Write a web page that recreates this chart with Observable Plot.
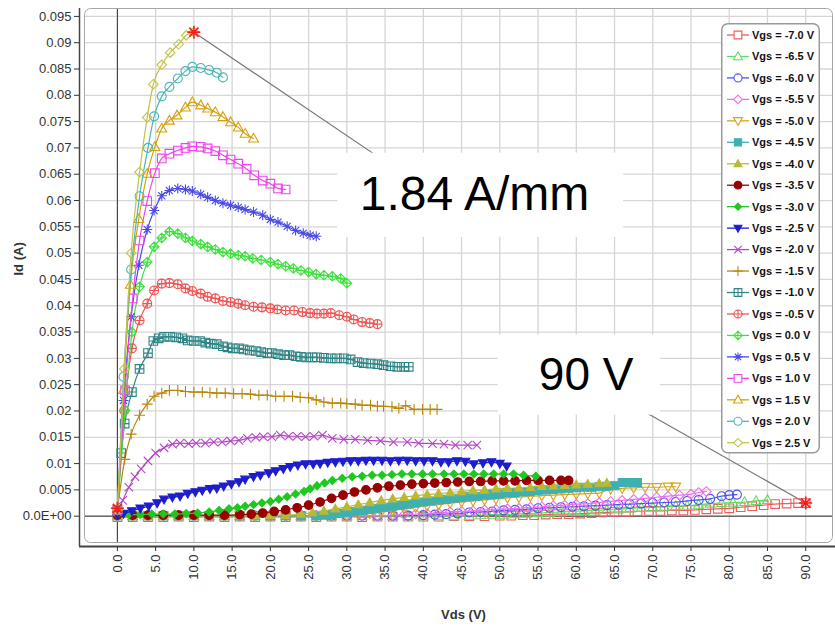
<!DOCTYPE html>
<html><head><meta charset="utf-8">
<script src="https://cdn.jsdelivr.net/npm/d3@7"></script>
<script src="https://cdn.jsdelivr.net/npm/@observablehq/plot@0.6"></script>
<style>
html,body{margin:0;padding:0;background:#fff;}
#wrap{position:relative;width:835px;height:630px;overflow:hidden;}
</style></head><body><div id="wrap"></div>
<script>
// ---------- data ----------
const vgsLabels = ["-7.0","-6.5","-6.0","-5.5","-5.0","-4.5","-4.0","-3.5","-3.0","-2.5","-2.0","-1.5","-1.0","-0.5","0.0","0.5","1.0","1.5","2.0","2.5"];
const xTicks = [0,5,10,15,20,25,30,35,40,45,50,55,60,65,70,75,80,85,90];
const yTicks = [0,0.005,0.01,0.015,0.02,0.025,0.03,0.035,0.04,0.045,0.05,0.055,0.06,0.065,0.07,0.075,0.08,0.085,0.09,0.095];

const d_m70 = [[0,-0.0002],[2,-0.0002],[4,-0.0002],[6,-0.0002],[8,-0.0001],[10,-0.0002],[12,-0.0001],[14,-0.0002],[16,-0.0001],[18,-0.0002],[20,-0.0001],[22,-0.0002],[24,-0.0001],[26,-0.0002],[28,-0.0001],[30,-0.0001],[32,-0.0002],[34,-0.0001],[36,-0.0001],[38,-0.0001],[40,-0.0001],[42,-0.0001],[44,0],[46,0],[48,0],[50,0.0001],[51.5,0.0001],[53,0.0002],[54.5,0.0002],[56,0.0003],[57.5,0.0004],[59,0.0004],[60.5,0.0005],[62,0.0006],[63.5,0.0007],[65,0.0008],[66.5,0.0008],[68,0.0009],[69.5,0.001],[71,0.001],[72.5,0.0011],[74,0.0011],[75.5,0.0012],[77,0.0013],[78.5,0.0014],[80,0.0015],[81.5,0.0017],[83,0.0019],[84.5,0.0021],[86,0.0023],[87.5,0.0024],[89,0.0025],[90,0.0025]];
const d_m65 = [[0,0],[2,0],[4,0],[6,0],[8,0],[10,0],[12,0],[14,0],[16,0],[18,0],[20,0],[22,0],[24,0],[26,0],[28,0],[30,0],[32,0],[34,0],[36,0],[38,0],[40,0],[42,0],[44,0],[46,0.0001],[47.5,0.0002],[49,0.0003],[50.5,0.0003],[52,0.0004],[53.5,0.0005],[55,0.0006],[56.5,0.0007],[58,0.0008],[59.5,0.0009],[61,0.001],[62.5,0.0011],[64,0.0012],[65.5,0.0013],[67,0.0015],[68.5,0.0016],[70,0.0017],[71.5,0.0018],[73,0.0019],[74.5,0.002],[76,0.0022],[77.5,0.0024],[79,0.0025],[80.5,0.0026],[82,0.0027],[83.5,0.0029],[85,0.0031]];
const d_m60 = [[0,0.0001],[2,0.0001],[4,0.0001],[6,0.0001],[8,0.0001],[10,0.0001],[12,0.0001],[14,0.0001],[16,0.0001],[18,0.0001],[20,0.0001],[22,0.0001],[24,0.0001],[26,0.0001],[28,0.0001],[30,0.0001],[32,0.0001],[34,0.0001],[36,0.0001],[38,0.0001],[40,0.0002],[41.5,0.0003],[43,0.0004],[44.5,0.0005],[46,0.0007],[47.5,0.0008],[49,0.0009],[50.5,0.0011],[52,0.0012],[53.5,0.0013],[55,0.0015],[56.5,0.0016],[58,0.0017],[59.5,0.0018],[61,0.0019],[62.5,0.002],[64,0.0021],[65.5,0.0022],[67,0.0023],[68.5,0.0024],[70,0.0025],[71.5,0.0026],[73,0.0027],[74.5,0.0029],[76,0.0031],[77.5,0.0033],[79,0.0038],[80,0.004],[81,0.0041]];
const d_m55 = [[0,0.0001],[2,0.0001],[4,0.0001],[6,0.0001],[8,0.0001],[10,0.0001],[12,0.0001],[14,0.0001],[16,0.0001],[18,0.0001],[20,0.0001],[22,0.0001],[24,0.0001],[26,0.0001],[28,0.0001],[30,0.0001],[32,0.0001],[34,0.0001],[36,0.0002],[37.5,0.0003],[39,0.0004],[40.5,0.0005],[42,0.0006],[43.5,0.0008],[45,0.0009],[46.5,0.001],[48,0.0012],[49.5,0.0013],[51,0.0014],[52.5,0.0015],[54,0.0017],[55.5,0.0018],[57,0.002],[58.5,0.0021],[60,0.0023],[61.5,0.0024],[63,0.0026],[64.5,0.0028],[66,0.003],[67.5,0.0032],[69,0.0034],[70.5,0.0036],[72,0.0038],[73.5,0.004],[75,0.0042],[76,0.0045],[77,0.0047]];
const d_m50 = [[0,0.0001],[2,0.0001],[4,0.0001],[6,0.0001],[8,0.0001],[10,0.0001],[12,0.0001],[14,0.0001],[16,0.0001],[18,0.0001],[20,0.0001],[22,0.0001],[24,0.0001],[26,0.0001],[28,0.0001],[30,0.0001],[31.5,0.0003],[33,0.0005],[34.5,0.0008],[36,0.0011],[37.5,0.0014],[39,0.0017],[40.5,0.002],[42,0.0022],[43.5,0.0025],[45,0.0027],[46.5,0.0029],[48,0.0031],[49.5,0.0033],[51,0.0035],[52.5,0.0036],[54,0.0038],[55.5,0.0039],[57,0.004],[58.5,0.0041],[60,0.0042],[61.5,0.0043],[63,0.0044],[64.5,0.0052],[66,0.0053],[67.5,0.0054],[69,0.0055],[70.5,0.0055],[72,0.0056],[73,0.0056]];
const d_m45 = [[0,0.0001],[2,0.0001],[4,0.0001],[6,0.0001],[8,0.0001],[10,0.0001],[12,0.0001],[14,0.0001],[16,0.0001],[18,0.0001],[20,0.0001],[22,0.0001],[24,0.0001],[26,0.0001],[27,0.0002],[28,0.0003],[29,0.0005],[30,0.0007],[31,0.0009],[32,0.0011],[33,0.0013],[34,0.0015],[35,0.0017],[36,0.0019],[37,0.0021],[38,0.0023],[39,0.0025],[40,0.0027],[41,0.0029],[42,0.0031],[43,0.0032],[44,0.0034],[45,0.0035],[46,0.0037],[47,0.0038],[48,0.004],[49,0.0041],[50,0.0042],[51,0.0044],[52,0.0045],[53,0.0046],[54,0.0047],[55,0.0049],[56,0.005],[57,0.0051],[58,0.0052],[59,0.0053],[60,0.0054],[61,0.0055],[62,0.0055],[63,0.0056],[64,0.0057],[65,0.0058],[66,0.0064],[67,0.0064],[68,0.0064]];
const d_m40 = [[0,0.0001],[2,0.0001],[4,0.0001],[6,0.0001],[8,0.0001],[10,0.0001],[12,0.0001],[14,0.0001],[16,0.0001],[18,0.0001],[20,0.0002],[22,0.0002],[24,0.0004],[25.5,0.0007],[27,0.001],[28.5,0.0014],[30,0.0018],[31.5,0.0022],[33,0.0026],[34.5,0.003],[36,0.0033],[37.5,0.0036],[39,0.0039],[40.5,0.0041],[42,0.0043],[43.5,0.0045],[45,0.0047],[46.5,0.0049],[48,0.005],[49.5,0.0052],[51,0.0053],[52.5,0.0054],[54,0.0055],[55.5,0.0057],[57,0.0058],[58.5,0.0059],[60,0.006],[61.5,0.0061],[63,0.0062],[64,0.0063]];
const d_m35 = [[0,0.0002],[2,0.0002],[4,0.0002],[6,0.0002],[8,0.0002],[10,0.0002],[12,0.0002],[14,0.0002],[16,0.0003],[17.5,0.0004],[19,0.0006],[20.5,0.0009],[22,0.0012],[23.5,0.0016],[25,0.0021],[26.5,0.0027],[28,0.0034],[29.5,0.004],[31,0.0046],[32.5,0.005],[34,0.0054],[35.5,0.0057],[37,0.0059],[38.5,0.0061],[40,0.0062],[41.5,0.0063],[43,0.0064],[44.5,0.0065],[46,0.0066],[47.5,0.0066],[49,0.0067],[50.5,0.0067],[52,0.0067],[53.5,0.0068],[55,0.0068],[56.5,0.0068],[58,0.0068],[59,0.0068]];
const d_m30 = [[0,0.0003],[1.5,0.0003],[3,0.0003],[4.5,0.0004],[6,0.0004],[7.5,0.0004],[9,0.0005],[10.5,0.0006],[12,0.0008],[13.3,0.0011],[14.6,0.0014],[15.7,0.0016],[16.7,0.0019],[17.8,0.0022],[18.9,0.0025],[20,0.0028],[21.1,0.0032],[22.2,0.0037],[23.3,0.0042],[24.4,0.0047],[25.2,0.0052],[26.1,0.0058],[27.1,0.0063],[28.1,0.0068],[29.4,0.0072],[30.7,0.0075],[32,0.0076],[33.3,0.0078],[34.6,0.0078],[35.9,0.0079],[37.2,0.008],[38.5,0.008],[39.9,0.008],[41.2,0.008],[42.7,0.008],[44,0.008],[45.3,0.008],[46.6,0.008],[47.9,0.008],[49.2,0.008],[50.5,0.008],[51.8,0.008],[53.1,0.0078],[54.7,0.0076]];
const d_m25 = [[0,0.0003],[0.8,0.0005],[1.9,0.001],[3,0.0015],[4.1,0.0019],[5.2,0.0025],[6.1,0.0032],[7.2,0.0036],[8.2,0.0038],[9.2,0.0043],[10.2,0.0046],[11.1,0.0049],[12.1,0.0052],[13,0.0053],[13.9,0.0057],[14.9,0.0061],[15.9,0.0065],[16.7,0.007],[17.8,0.0075],[18.7,0.0078],[19.8,0.0082],[20.7,0.0086],[21.7,0.009],[22.6,0.0094],[23.6,0.0097],[24.6,0.0099],[25.6,0.0099],[26.5,0.01],[27.5,0.0102],[28.5,0.0103],[29.5,0.0104],[30.5,0.0105],[31.5,0.0105],[32.5,0.0106],[33.5,0.0106],[34.6,0.0106],[35.7,0.0105],[36.8,0.0106],[37.9,0.0106],[39,0.0105],[40.1,0.0105],[41.2,0.0105],[42.3,0.0103],[43.3,0.0103],[44.4,0.0105],[45.5,0.0104],[46.6,0.0099],[47.8,0.0101],[48.9,0.0103],[50,0.01],[50.9,0.0095]];
const d_m20 = [[0,0.0008],[0.7,0.003],[1.5,0.0055],[2.3,0.0075],[3.1,0.009],[4,0.0105],[5,0.012],[6.1,0.013],[7.2,0.0137],[8.2,0.0139],[9.3,0.0138],[10.3,0.0139],[11.5,0.0139],[12.6,0.0141],[13.7,0.0141],[14.8,0.0143],[15.9,0.0144],[17,0.0148],[18.1,0.015],[19.1,0.0151],[20.2,0.0151],[21.3,0.0154],[22.4,0.0152],[23.5,0.0152],[24.6,0.0151],[25.7,0.0152],[26.8,0.0154],[28.1,0.0148],[29.6,0.0146],[31.1,0.0146],[32.7,0.0144],[34.4,0.0143],[36.1,0.0141],[37.9,0.0141],[39.4,0.0139],[41.2,0.0138],[42.7,0.0137],[44.2,0.0135],[45.8,0.0135],[47,0.0135]];
const d_m15 = [[0,0.0012],[0.96,0.0108],[1.8,0.0156],[2.9,0.0192],[3.9,0.0213],[4.8,0.0228],[5.8,0.0234],[6.8,0.0239],[7.9,0.0239],[8.9,0.0237],[10,0.0236],[11.1,0.0236],[12.1,0.0235],[13,0.0234],[14.1,0.0234],[15.2,0.0233],[16.3,0.0233],[17.4,0.0232],[18.5,0.023],[19.6,0.023],[20.7,0.0228],[21.8,0.0228],[22.9,0.0228],[23.9,0.0226],[25,0.0225],[26,0.0221],[27,0.0217],[28.1,0.0215],[29.2,0.0215],[30,0.0214],[31.1,0.0213],[32,0.0211],[33.1,0.0211],[34,0.0209],[34.8,0.0209],[35.9,0.0208],[36.8,0.0205],[37.7,0.021],[38.8,0.0203],[39.9,0.0203],[40.9,0.0203],[41.8,0.0203]];
const d_m10 = [[0,0.0012],[0.5,0.012],[0.95,0.0176],[1.9,0.0236],[2.9,0.028],[4,0.031],[4.7,0.0333],[5.4,0.0338],[6.1,0.0341],[6.9,0.0341],[7.7,0.034],[8.5,0.0338],[9.2,0.0334],[10,0.0333],[10.8,0.0333],[11.5,0.033],[12.2,0.0328],[13,0.0327],[13.8,0.0323],[14.4,0.0321],[15.1,0.0319],[15.9,0.0319],[16.5,0.0317],[17.3,0.0315],[18.1,0.0314],[18.8,0.0312],[19.6,0.031],[20.2,0.031],[21,0.0308],[21.8,0.0306],[22.5,0.0306],[23.3,0.0304],[24,0.0303],[24.7,0.0302],[25.5,0.0302],[26.1,0.0302],[27,0.0301],[27.9,0.03],[28.7,0.03],[29.6,0.03],[30.5,0.0298],[31.4,0.0293],[32.2,0.0291],[33.1,0.029],[34,0.0289],[34.8,0.0287],[35.7,0.0285],[36.6,0.0284],[37.5,0.0284],[38.1,0.0284]];
const d_m05 = [[0,0.0012],[0.9,0.0201],[1.9,0.0319],[2.9,0.0372],[3.9,0.0404],[4.8,0.0429],[5.8,0.0442],[6.8,0.0443],[7.9,0.0441],[8.9,0.0433],[9.8,0.0428],[10.9,0.0423],[11.8,0.0417],[12.8,0.0414],[13.8,0.0409],[14.8,0.0407],[15.8,0.0404],[16.7,0.0401],[17.8,0.0398],[18.9,0.0397],[20,0.0395],[20.9,0.0393],[22,0.0391],[23.1,0.0391],[24.2,0.0388],[25.2,0.0386],[26.1,0.0385],[27,0.0385],[27.9,0.0386],[29,0.0382],[30,0.0379],[30.9,0.0374],[32,0.0369],[33,0.0367],[34,0.0365]];
const d_p00 = [[0,0.0012],[1,0.0201],[1.9,0.035],[2.9,0.0436],[3.9,0.0483],[4.8,0.0512],[5.8,0.0529],[6.8,0.0541],[7.9,0.0537],[8.9,0.0529],[9.8,0.0523],[10.9,0.0517],[11.8,0.0512],[12.8,0.0507],[13.8,0.0502],[14.8,0.0499],[15.8,0.0496],[16.7,0.0494],[17.7,0.049],[18.8,0.0487],[20,0.0483],[21,0.0479],[22,0.0475],[23,0.0471],[24,0.0467],[25,0.0464],[26,0.046],[27,0.0458],[28.1,0.0456],[29.2,0.0452],[30,0.0443]];
const d_p05 = [[0,0.0012],[0.8,0.022],[1.8,0.0379],[2.8,0.0477],[3.9,0.0545],[4.8,0.0581],[5.8,0.0609],[6.8,0.0619],[7.9,0.0623],[8.9,0.0621],[9.8,0.0618],[10.9,0.0612],[11.8,0.0606],[12.8,0.06],[13.8,0.0595],[14.8,0.0591],[15.8,0.0587],[16.7,0.0583],[17.8,0.0578],[19,0.0572],[20,0.0564],[21,0.0559],[22.2,0.0551],[23.3,0.0543],[24.3,0.0538],[25.2,0.0534],[26,0.0532]];
const d_p10 = [[0,0.0012],[1,0.0239],[2,0.0414],[2.9,0.0524],[3.9,0.0599],[4.9,0.0652],[5.8,0.068],[6.8,0.0689],[7.9,0.0695],[8.9,0.07],[9.8,0.0703],[10.9,0.0702],[11.8,0.0699],[12.8,0.0694],[13.8,0.0686],[14.8,0.0678],[15.8,0.067],[16.9,0.066],[17.9,0.0648],[19,0.0638],[20,0.0632],[21,0.0623],[22,0.0621]];
const d_p15 = [[0,0.0012],[0.8,0.024],[1.7,0.044],[2.8,0.0565],[3.9,0.0651],[4.9,0.0702],[5.8,0.0737],[6.8,0.0752],[7.8,0.0762],[8.9,0.0777],[9.8,0.0787],[10.9,0.0781],[11.8,0.0775],[12.8,0.0768],[13.8,0.0759],[14.8,0.0749],[15.8,0.0739],[16.7,0.0727],[17.8,0.0718]];
const d_p20 = [[0,0.0012],[0.8,0.0265],[1.8,0.0469],[2.9,0.0608],[4,0.07],[4.8,0.076],[5.8,0.0798],[6.8,0.0816],[7.9,0.0832],[8.9,0.0846],[9.8,0.0854],[10.9,0.0852],[12,0.0848],[13,0.0843],[13.8,0.0834]];
const d_p25 = [[0,0.0012],[0.9,0.028],[1.8,0.05],[2.9,0.0654],[3.9,0.0758],[4.7,0.0821],[5.8,0.0858],[6.9,0.0881],[8,0.0897],[9,0.0914],[10,0.092]];

const seriesData = [d_m70,d_m65,d_m60,d_m55,d_m50,d_m45,d_m40,d_m35,d_m30,d_m25,d_m20,d_m15,d_m10,d_m05,d_p00,d_p05,d_p10,d_p15,d_p20,d_p25];

// highlighted points (red stars)
const starPoints = [[0,0.0015],[10,0.092],[90,0.0025]];
// annotation labels and the points their boxes cover
const noteText = ["1.84 A/mm","90 V"];

// ---------- styles ----------
const colors = ["#f25c5c","#62dc62","#5252ee","#ee70ee","#d9a21b","#3fb0b0","#b9b935","#990000","#1ec81e","#1d1dcc","#b446c4","#b8860b","#2f8585","#ef5555","#3ee03e","#4a4ae6","#ee44ee","#d4a10d","#4db6b6","#c3c34a"];
const kinds = ["square","triUp","circle","diamond","triDown","square","triUp","circle","diamondS","triDown","times","plus","squarePlus","circlePlus","diamondPlus","asterisk","square","triUp","circle","diamond"];
const filled = [false,false,false,false,false,true,true,true,true,true,false,false,false,false,false,false,false,false,false,false];
const radii = [4.3,4.5,4.5,4,4.5,4,4,4.3,3.3,4,4.2,4.5,4.3,4.5,4,5,4.3,4.5,4.5,4];

const R = s => Math.sqrt(s / Math.PI);
const plusPath = (c, r) => { c.moveTo(-r,0); c.lineTo(r,0); c.moveTo(0,-r); c.lineTo(0,r); };
const diamondPath = (c, r) => { c.moveTo(0,-r); c.lineTo(r,0); c.lineTo(0,r); c.lineTo(-r,0); c.closePath(); };
const SYM = {
  square: {draw(c,s){const r=R(s); c.rect(-r,-r,2*r,2*r);}},
  circle: {draw(c,s){const r=R(s); c.moveTo(r,0); c.arc(0,0,r,0,2*Math.PI);}},
  triUp: {draw(c,s){const r=R(s); c.moveTo(0,-r*1.15); c.lineTo(r*1.1,r*0.8); c.lineTo(-r*1.1,r*0.8); c.closePath();}},
  triDown: {draw(c,s){const r=R(s); c.moveTo(0,r*1.15); c.lineTo(r*1.1,-r*0.8); c.lineTo(-r*1.1,-r*0.8); c.closePath();}},
  diamond: {draw(c,s){diamondPath(c,R(s)*1.2);}},
  diamondS: {draw(c,s){diamondPath(c,R(s)*1.2);}},
  times: {draw(c,s){const r=R(s); c.moveTo(-r,-r); c.lineTo(r,r); c.moveTo(r,-r); c.lineTo(-r,r);}},
  plus: {draw(c,s){plusPath(c,R(s)*1.2);}},
  squarePlus: {draw(c,s){const r=R(s); c.rect(-r,-r,2*r,2*r); plusPath(c,r);}},
  circlePlus: {draw(c,s){const r=R(s); c.moveTo(r,0); c.arc(0,0,r,0,2*Math.PI); plusPath(c,r);}},
  diamondPlus: {draw(c,s){const r=R(s)*1.2; diamondPath(c,r); plusPath(c,r);}},
  asterisk: {draw(c,s){const r=R(s); for(let k=0;k<4;k++){const a=k*Math.PI/4; c.moveTo(-r*Math.cos(a),-r*Math.sin(a)); c.lineTo(r*Math.cos(a),r*Math.sin(a));}}}
};

// ---------- chart ----------
const xDom = [-4.3, 93.5], yDom = [-0.005, 0.0965];
const marks = [
  Plot.ruleX(xTicks, {stroke:"#d6d6d6", strokeWidth:1.3}),
  Plot.ruleY(yTicks, {stroke:"#d6d6d6", strokeWidth:1.3}),
  Plot.ruleX([0], {stroke:"#333", strokeWidth:1}),
  Plot.ruleY([0], {stroke:"#6a6a6a", strokeWidth:1.6}),
  Plot.link([0], {x1: () => starPoints[1][0], y1: () => starPoints[1][1], x2: () => 40, y2: () => 0.0625, stroke:"#777", strokeWidth:1.2}),
  Plot.link([0], {x1: () => starPoints[2][0], y1: () => starPoints[2][1], x2: () => 68, y2: () => 0.0206, stroke:"#777", strokeWidth:1.2}),
  Plot.rect([0], {x1: () => 28.8, x2: () => 66.2, y1: () => 0.053, y2: () => 0.069, fill:"white"}),
  Plot.rect([0], {x1: () => 49.8, x2: () => 71.0, y1: () => 0.0192, y2: () => 0.0344, fill:"white"}),
  Plot.text([noteText[0]], {x: () => 31.7, y: () => 0.0611, text: d => d, textAnchor:"start", fontSize: 48, fill:"black"}),
  Plot.text([noteText[1]], {x: () => 55.1, y: () => 0.0267, text: d => d, textAnchor:"start", fontSize: 46, fill:"black"}),
];
seriesData.forEach((d, i) => {
  marks.push(Plot.line(d, {x: p => p[0], y: p => p[1], stroke: colors[i], strokeWidth: 1.2, curve: "monotone-x"}));
  marks.push(Plot.dot(d, {x: p => p[0], y: p => p[1], symbol: SYM[kinds[i]], r: radii[i], stroke: colors[i], fill: filled[i] ? colors[i] : "none", strokeWidth: 1.1}));
});
marks.push(
  Plot.dot(starPoints, {x: p => p[0], y: p => p[1], symbol: SYM.asterisk, r: 6.5, stroke: "#ff1a1a", strokeWidth: 1.6}),
  Plot.frame({stroke:"#a6a6a6", rx: 6}),
  Plot.ruleX([xDom[0]], {dx: -5, stroke:"#444", strokeWidth:1.5, insetBottom: -4}),
  Plot.ruleY([yDom[0]], {dy: 4, stroke:"#444", strokeWidth:1.8, insetLeft: -5, insetRight: -3}),
  Plot.axisY(yTicks, {tickSize: 5, dx: -5, tickPadding: 3, tickFormat: d => d === 0 ? "0.0E+00" : String(d), label: null}),
  Plot.axisX(xTicks, {tickSize: 5, dy: 4, tickPadding: 3, tickRotate: -90, tickFormat: d => d.toFixed(1), label: null}),
  Plot.text(["Id (A)"], {frameAnchor: "left", dx: -66, rotate: -90, text: d => d, fontWeight: "bold", fontSize: 13, fill: "#333"}),
  Plot.text(["Vds (V)"], {frameAnchor: "bottom", dx: 5, dy: 76, text: d => d, fontWeight: "bold", fontSize: 13, fill: "#333"})
);

const chart = Plot.plot({
  width: 835, height: 630,
  marginLeft: 84, marginRight: 3, marginTop: 8, marginBottom: 88,
  x: {domain: xDom},
  y: {domain: yDom},
  style: {fontFamily: "'Liberation Sans', Arial, sans-serif", fontSize: "13px", color: "#333", background: "white"},
  marks
});
const wrap = document.getElementById("wrap");
wrap.appendChild(chart);

// ---------- legend ----------
const lg = d3.select(wrap).append("svg")
  .attr("width", 100).attr("height", 432)
  .style("position", "absolute").style("left", "721px").style("top", "23px");
lg.append("rect").attr("x", 0.75).attr("y", 0.75).attr("width", 97.5).attr("height", 429)
  .attr("rx", 6).attr("fill", "white").attr("stroke", "#9a9a9a").attr("stroke-width", 1.5);
vgsLabels.forEach((lab, i) => {
  const g = lg.append("g").attr("transform", `translate(0,${12 + i * 21.46})`);
  g.append("line").attr("x1", 6).attr("x2", 28).attr("stroke", colors[i]).attr("stroke-width", 1.3);
  g.append("path").attr("transform", "translate(17,0)")
    .attr("d", d3.symbol(SYM[kinds[i]], Math.PI * radii[i] * radii[i] * 0.8)())
    .attr("stroke", colors[i]).attr("stroke-width", 1.1)
    .attr("fill", filled[i] ? colors[i] : "white");
  g.append("text").attr("x", 31).attr("dy", "0.35em").text(`Vgs = ${lab} V`)
    .style("font", "bold 11px 'Liberation Sans', Arial, sans-serif").attr("fill", "#111");
});
</script></body></html>
